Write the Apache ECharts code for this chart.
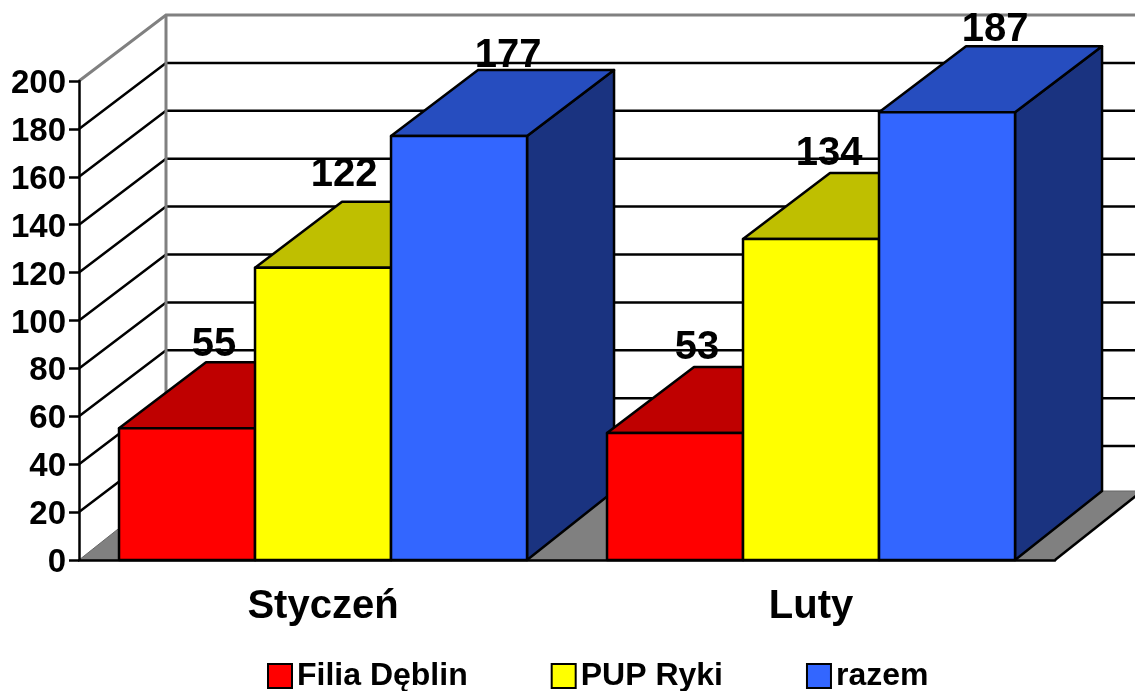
<!DOCTYPE html>
<html lang="pl">

<head>
    <meta charset="UTF-8">
    <title>Filia Dęblin / PUP Ryki</title>
    <style>
        * {
            margin: 0;
            padding: 0;
        }

        html,
        body {
            width: 100%;
            height: 100%;
            background: #fff;
        }
    </style>
    <script src="https://cdn.jsdelivr.net/npm/echarts@6/dist/echarts.min.js"></script>
</head>

<body>
    <div id="main" style="width:1135px;height:691px;"></div>
</body>
<script>
    var categories = ['Styczeń', 'Luty'];
    var filiaDeblin = [55, 53];
    var pupRyki = [122, 134];
    var razem = [177, 187];
    var yTicks = [0, 20, 40, 60, 80, 100, 120, 140, 160, 180, 200];

    // fake 3d: how far the back of the box is shifted from the front
    var DEPTH_X = 87;
    var DEPTH_Y = 66;
    var FLOOR_DEPTH_Y = 69;
    var LINE = 2.5;
    var FONT = '"Liberation Sans", Arial, sans-serif';

    // data label position relative to bar front (top centre), [category][dx, dy]
    var labelShift = [
        [[27, -83], [22, -85]],
        [[21, -93], [18, -85]],
        [[49, -80], [48, -82]]
    ];

    function walls(params, api) {
        var rect = params.coordSys;
        var left = rect.x;
        var right = rect.x + rect.width;
        var y0 = api.coord([0, 0])[1];
        var y200 = api.coord([0, 200])[1];
        var children = [];

        children.push({
            type: 'polygon',
            shape: {
                points: [
                    [left, y0],
                    [right, y0],
                    [right + DEPTH_X, y0 - FLOOR_DEPTH_Y],
                    [left + DEPTH_X, y0 - FLOOR_DEPTH_Y]
                ]
            },
            style: { fill: '#808080', stroke: '#666', lineWidth: 1 }
        });
        children.push({
            type: 'line',
            shape: { x1: right, y1: y0, x2: right + DEPTH_X, y2: y0 - FLOOR_DEPTH_Y },
            style: { stroke: '#000', lineWidth: LINE }
        });

        yTicks.forEach(function (t) {
            if (t === 0 || t === 200) {
                return;
            }
            var y = api.coord([0, t])[1];
            children.push({
                type: 'polyline',
                shape: {
                    points: [[left, y], [left + DEPTH_X, y - DEPTH_Y], [right + DEPTH_X, y - DEPTH_Y]]
                },
                style: { fill: null, stroke: '#000', lineWidth: LINE }
            });
        });

        // grey frame of the walls
        children.push({
            type: 'polyline',
            shape: {
                points: [
                    [left, y200],
                    [left + DEPTH_X, y200 - DEPTH_Y],
                    [right + DEPTH_X, y200 - DEPTH_Y]
                ]
            },
            style: { fill: null, stroke: '#808080', lineWidth: 3 }
        });
        children.push({
            type: 'line',
            shape: {
                x1: left + DEPTH_X,
                y1: y200 - DEPTH_Y,
                x2: left + DEPTH_X,
                y2: y0 - FLOOR_DEPTH_Y
            },
            style: { stroke: '#808080', lineWidth: 3 }
        });

        return { type: 'group', children: children };
    }

    function box(seriesIndex, front, top, side) {
        return function (params, api) {
            var i = api.value(0);
            var v = api.value(1);
            var band = api.size([1, 0])[0];
            var w = band * 0.2787;
            var x = api.coord([i, 0])[0] - band / 2 + band * 0.082 + w * seriesIndex;
            var y0 = api.coord([i, 0])[1];
            var y = api.coord([i, v])[1];
            var shift = labelShift[seriesIndex][i];
            var edge = { stroke: '#000', lineWidth: LINE, lineJoin: 'round' };
            // later category sits in front of the earlier one
            var order = i * 10 + seriesIndex;

            return {
                type: 'group',
                children: [{
                    type: 'polygon',
                    z2: order,
                    shape: {
                        points: [
                            [x + w, y0],
                            [x + w + DEPTH_X, y0 - FLOOR_DEPTH_Y],
                            [x + w + DEPTH_X, y - DEPTH_Y],
                            [x + w, y]
                        ]
                    },
                    style: Object.assign({ fill: side }, edge)
                }, {
                    type: 'polygon',
                    z2: order,
                    shape: {
                        points: [
                            [x, y],
                            [x + DEPTH_X, y - DEPTH_Y],
                            [x + w + DEPTH_X, y - DEPTH_Y],
                            [x + w, y]
                        ]
                    },
                    style: Object.assign({ fill: top }, edge)
                }, {
                    type: 'rect',
                    z2: order,
                    shape: { x: x, y: y, width: w, height: y0 - y },
                    style: Object.assign({ fill: front }, edge)
                }, {
                    type: 'text',
                    z2: order,
                    x: x + w / 2 + shift[0],
                    y: y + shift[1],
                    style: {
                        text: String(v),
                        fill: '#000',
                        font: 'bold 40px ' + FONT,
                        textAlign: 'center',
                        textVerticalAlign: 'middle'
                    }
                }]
            };
        };
    }

    function toPoints(values) {
        return values.map(function (v, i) {
            return [i, v];
        });
    }

    function initEchart() {
        var option = {
            animation: false,
            grid: {
                left: 79,
                right: 80,
                top: 81,
                bottom: 131
            },
            legend: {
                data: ['Filia Dęblin', 'PUP Ryki', 'razem'],
                left: 267,
                top: 660,
                padding: 0,
                icon: 'rect',
                itemWidth: 24,
                itemHeight: 24,
                itemGap: 83,
                selectedMode: false,
                itemStyle: {
                    borderColor: '#000',
                    borderWidth: 2
                },
                textStyle: {
                    color: '#000',
                    fontFamily: FONT,
                    fontWeight: 'bold',
                    fontSize: 32
                }
            },
            xAxis: [{
                type: 'category',
                data: categories,
                z: 5,
                axisLine: {
                    lineStyle: { color: '#000', width: LINE }
                },
                axisTick: {
                    length: 8,
                    lineStyle: { color: '#000', width: LINE }
                },
                axisLabel: {
                    interval: 0,
                    margin: 27,
                    color: '#000',
                    fontFamily: FONT,
                    fontWeight: 'bold',
                    fontSize: 40
                }
            }],
            yAxis: [{
                type: 'value',
                min: 0,
                max: 200,
                interval: 20,
                z: 5,
                splitLine: { show: false },
                axisLine: {
                    show: true,
                    lineStyle: { color: '#000', width: LINE }
                },
                axisTick: {
                    show: true,
                    length: 10,
                    lineStyle: { color: '#000', width: LINE }
                },
                axisLabel: {
                    margin: 13,
                    verticalAlign: 'top',
                    lineHeight: 6,
                    color: '#000',
                    fontFamily: FONT,
                    fontWeight: 'bold',
                    fontSize: 33
                }
            }],
            series: [{
                    type: 'custom',
                    name: 'walls',
                    renderItem: walls,
                    data: [[0, 0]],
                    silent: true,
                    z: 1
                },
                {
                    type: 'custom',
                    name: 'Filia Dęblin',
                    itemStyle: { color: '#ff0000' },
                    renderItem: box(0, '#ff0000', '#bf0000', '#800000'),
                    data: toPoints(filiaDeblin),
                    z: 2
                },
                {
                    type: 'custom',
                    name: 'PUP Ryki',
                    itemStyle: { color: '#ffff00' },
                    renderItem: box(1, '#ffff00', '#bfbf00', '#808000'),
                    data: toPoints(pupRyki),
                    z: 2
                },
                {
                    type: 'custom',
                    name: 'razem',
                    itemStyle: { color: '#3366ff' },
                    renderItem: box(2, '#3366ff', '#264dbf', '#1a3380'),
                    data: toPoints(razem),
                    z: 2
                }
            ]
        };
        var myChart = echarts.init(document.getElementById('main'));
        myChart.setOption(option);
    }
    initEchart();
</script>

</html>
